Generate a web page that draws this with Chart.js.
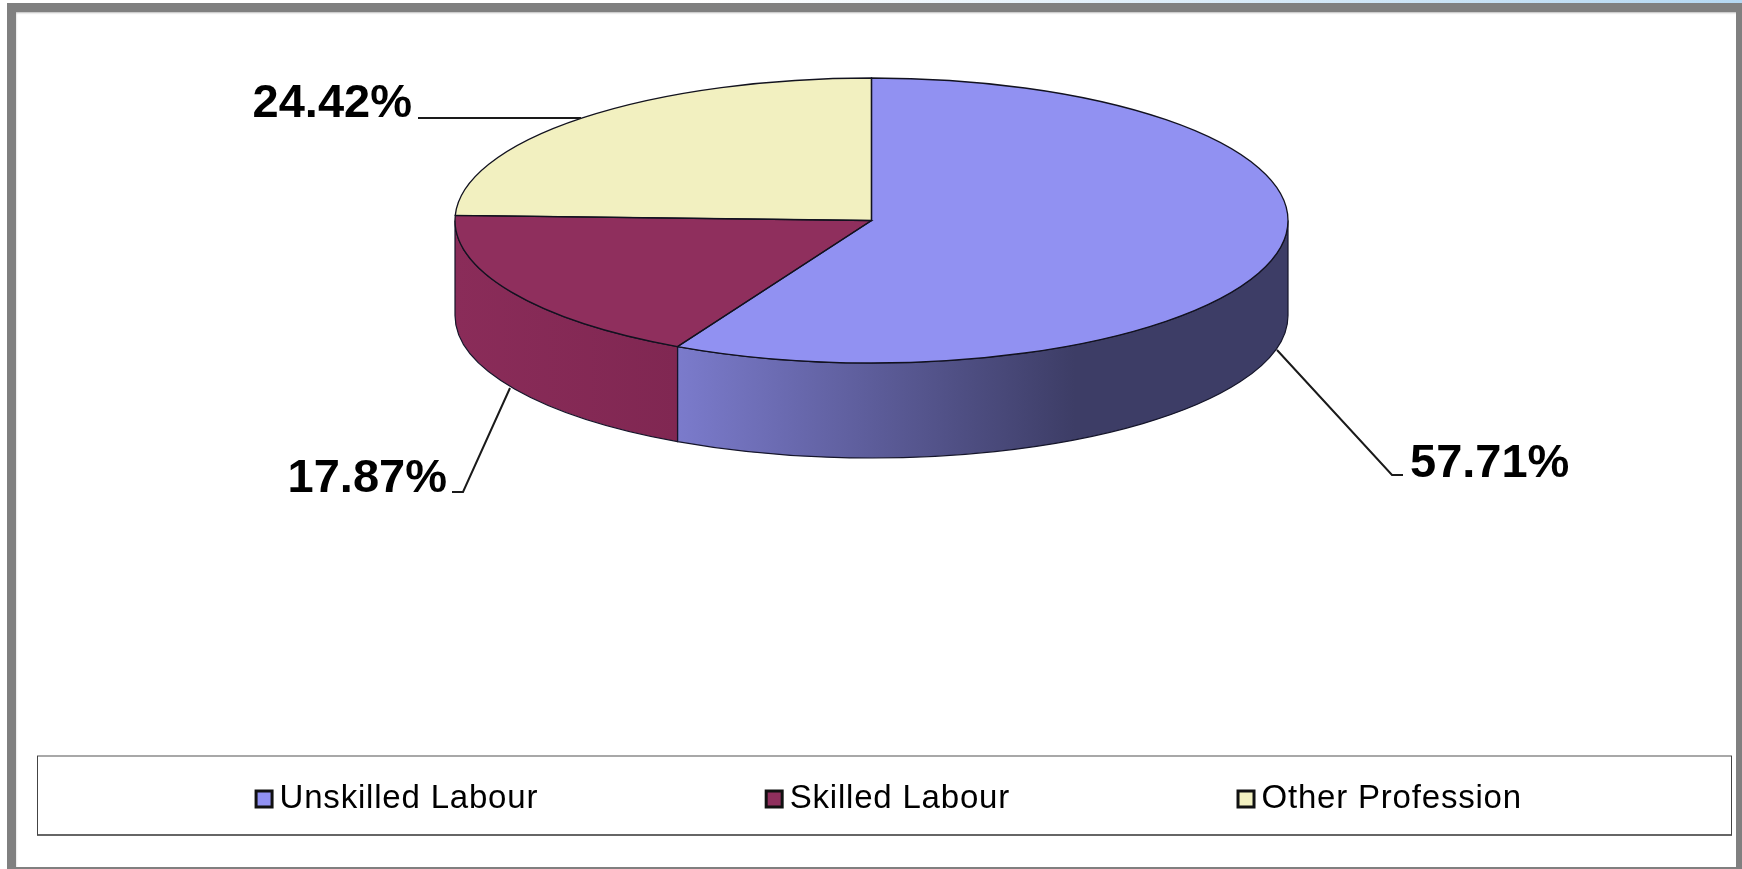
<!DOCTYPE html>
<html>
<head>
<meta charset="utf-8">
<title>Occupation of respondents</title>
<script src="https://cdn.jsdelivr.net/npm/chart.js@4"></script>
<style>
  html, body { margin: 0; padding: 0; background: #fff; overflow: hidden; }
  #wrap { position: relative; width: 1742px; height: 869px; }
  #topStrip { position: absolute; left: 0; top: 0; width: 1742px; height: 3px;
    background: linear-gradient(to right, #fff 0, #fff 40%, #b5d8f2 100%); }
  #frame { position: absolute; left: 7px; top: 3px; width: 1735px; height: 866px;
    box-sizing: border-box; border: solid #808080; border-width: 9px 6px 2px 9px;
    box-shadow: inset 1px 2px 2px -1px #bbb; }
  #chart { position: absolute; left: 0; top: 0; }
</style>
</head>
<body>
<div id="wrap">
  <div id="topStrip"></div>
  <div id="frame"></div>
  <canvas id="chart" width="1742" height="869"></canvas>
</div>
<script>
const categories = ['Unskilled Labour', 'Skilled Labour', 'Other Profession'];
const shares = [57.71, 17.87, 24.42];
const topColors = ['#9191f2', '#8f2f5d', '#f2f0c0'];

// the pie is flattened onto this ellipse, the wall hangs below it
const disc = { cx: 871.5, cy: 220.5, rx: 416.5, ry: 142.5, depth: 95 };

// where each percentage goes, with the bent line back to the pie
const callouts = [
  { x: 1410, y: 464, line: [[1403, 475], [1392, 475], [1277, 350]], align: 'left' },
  { x: 447, y: 479, line: [[452, 492], [463, 492], [510, 388]], align: 'right' },
  { x: 412, y: 104, line: [[418, 118], [581, 118]], align: 'right' }
];

const wallStops = [
  [[0, '#7b7bcc'], [1, '#3d3d66']],
  [[0, '#8a2c59'], [1, '#802752']],
  [[0, '#cfcd9f'], [1, '#cfcd9f']]
];
const wallSpans = [[677, 1075], [455, 677], [455, 871]];

function discPath(ctx, el, a0, a1, dy, ccw) {
  const { x, y, outerRadius: r } = el.getProps(['x', 'y', 'outerRadius']);
  ctx.save();
  ctx.translate(disc.cx, disc.cy + dy);
  ctx.scale(disc.rx / r, disc.ry / r);
  ctx.translate(-x, -y);
  ctx.arc(x, y, r, a0, a1, ccw);
  ctx.restore();
}

function hline(ctx, x0, x1, y, color) {
  ctx.strokeStyle = color;
  ctx.beginPath();
  ctx.moveTo(x0, y);
  ctx.lineTo(x1, y);
  ctx.stroke();
}

const pie3d = {
  id: 'pie3d',
  beforeLayout(chart) {
    // legend text is spaced out a little, the fit has to measure it that way
    chart.ctx.letterSpacing = '0.8px';
  },
  beforeDraw(chart) {
    chart.ctx.letterSpacing = '0.8px';
  },
  beforeDatasetsDraw(chart) {
    const ctx = chart.ctx;
    const arcs = chart.getDatasetMeta(0).data;
    arcs.forEach((el, i) => {
      const { startAngle, endAngle } = el.getProps(['startAngle', 'endAngle']);
      const a0 = Math.max(startAngle, 0);
      const a1 = Math.min(endAngle, Math.PI);
      if (a1 <= a0) return;
      // wall: front rim forward, then the lower rim back
      ctx.save();
      ctx.beginPath();
      discPath(ctx, el, a0, a1, 0, false);
      discPath(ctx, el, a1, a0, disc.depth, true);
      ctx.closePath();
      const g = ctx.createLinearGradient(wallSpans[i][0], 0, wallSpans[i][1], 0);
      wallStops[i].forEach(s => g.addColorStop(s[0], s[1]));
      ctx.fillStyle = g;
      ctx.fill();
      ctx.strokeStyle = '#15152a';
      ctx.lineWidth = 1.2;
      ctx.stroke();
      ctx.restore();
    });
    // the library draws the top face inside this transform
    const first = arcs[0].getProps(['x', 'y', 'outerRadius']);
    ctx.save();
    ctx.translate(disc.cx, disc.cy);
    ctx.scale(disc.rx / first.outerRadius, disc.ry / first.outerRadius);
    ctx.translate(-first.x, -first.y);
  },
  afterDatasetsDraw(chart) {
    const ctx = chart.ctx;
    ctx.restore();
    chart.getDatasetMeta(0).data.forEach(el => {
      const { startAngle, endAngle, x, y, outerRadius: r } = el.getProps(['startAngle', 'endAngle', 'x', 'y', 'outerRadius']);
      ctx.save();
      ctx.beginPath();
      ctx.save();
      ctx.translate(disc.cx, disc.cy);
      ctx.scale(disc.rx / r, disc.ry / r);
      ctx.translate(-x, -y);
      ctx.arc(x, y, r, startAngle, endAngle);
      ctx.lineTo(x, y);
      ctx.closePath();
      ctx.restore();
      ctx.strokeStyle = '#12121f';
      ctx.lineWidth = 1.3;
      ctx.stroke();
      ctx.restore();
    });
  },
  afterDraw(chart) {
    const ctx = chart.ctx;
    ctx.save();
    // legend frame, lighter along the top
    ctx.lineWidth = 2;
    hline(ctx, 37, 1732, 756, '#a8a8a8');
    hline(ctx, 37, 1732, 835, '#666');
    ctx.lineWidth = 1;
    ctx.strokeStyle = '#444';
    ctx.beginPath();
    ctx.moveTo(37.5, 756);
    ctx.lineTo(37.5, 835);
    ctx.moveTo(1731.5, 756);
    ctx.lineTo(1731.5, 835);
    ctx.stroke();

    // squares sit tight against their text, closer than the legend spacing allows
    chart.legend.legendHitBoxes.forEach((box, i) => {
      ctx.fillStyle = topColors[i];
      ctx.strokeStyle = '#111';
      ctx.lineWidth = 3;
      ctx.fillRect(box.left + 11, box.top + 9, 16, 16);
      ctx.strokeRect(box.left + 11, box.top + 9, 16, 16);
    });

    // percentages and their leader lines
    ctx.letterSpacing = '0px';
    ctx.font = 'bold 47px "Liberation Sans", Arial, sans-serif';
    ctx.textBaseline = 'middle';
    callouts.forEach((c, i) => {
      ctx.strokeStyle = '#1a1a1a';
      ctx.lineWidth = 2;
      ctx.beginPath();
      c.line.forEach((p, j) => j ? ctx.lineTo(p[0], p[1]) : ctx.moveTo(p[0], p[1]));
      ctx.stroke();
      ctx.fillStyle = '#000';
      ctx.textAlign = c.align;
      ctx.fillText(shares[i].toFixed(2) + '%', c.x, c.y);
    });
    ctx.restore();
  }
};

new Chart(document.getElementById('chart'), {
  type: 'pie',
  data: {
    labels: categories,
    datasets: [{
      data: shares,
      backgroundColor: topColors,
      borderWidth: 0,
      clip: false
    }]
  },
  plugins: [pie3d],
  options: {
    responsive: false,
    animation: false,
    layout: { padding: { left: 25, right: 0, bottom: 44, top: 0 } },
    plugins: {
      tooltip: { enabled: false },
      legend: {
        position: 'bottom',
        labels: {
          color: '#000',
          font: { family: '"Liberation Sans", Arial, sans-serif', size: 33 },
          boxWidth: 18,
          boxHeight: 18,
          padding: 217,
          generateLabels(chart) {
            return categories.map((text, i) => ({
              text, index: i, fillStyle: 'transparent', strokeStyle: 'transparent', lineWidth: 0, fontColor: '#000'
            }));
          }
        }
      }
    }
  }
});
</script>
</body>
</html>
